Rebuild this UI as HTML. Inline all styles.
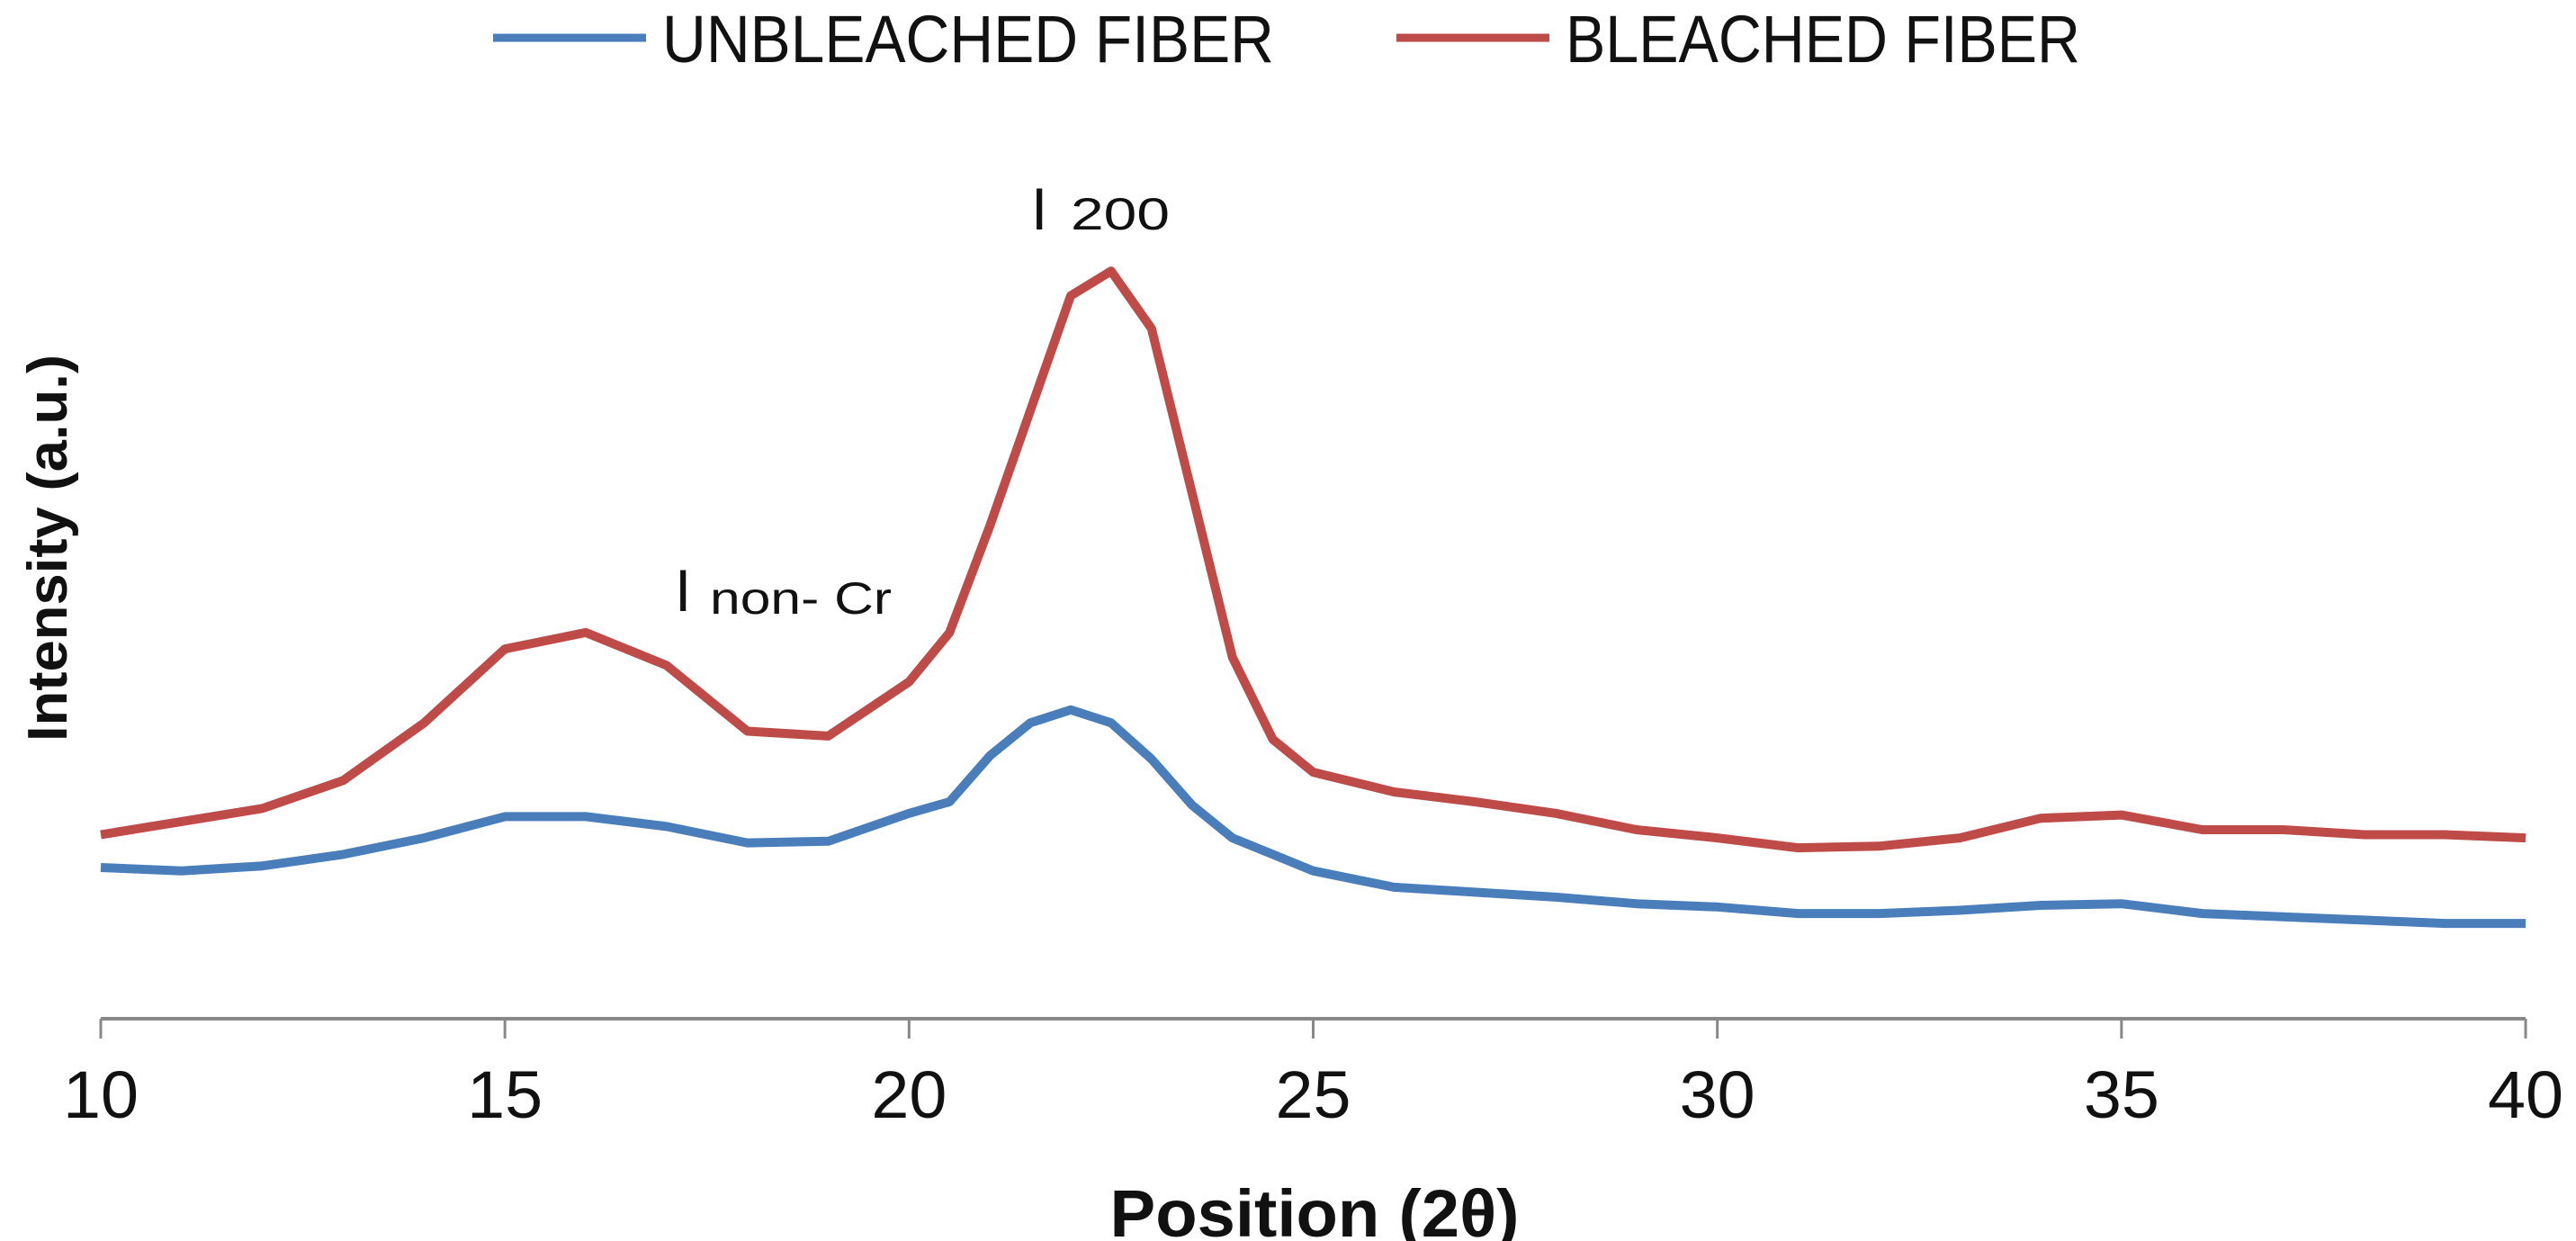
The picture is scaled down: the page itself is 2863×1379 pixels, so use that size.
<!DOCTYPE html>
<html><head><meta charset="utf-8"><style>
html,body{margin:0;padding:0;background:#fff;}
svg{display:block;}
text{font-family:"Liberation Sans",sans-serif;}
</style></head><body>
<svg id="chart" width="2863" height="1379" viewBox="0 0 2863 1379" xmlns="http://www.w3.org/2000/svg">
<g>
  <line x1="548" y1="42" x2="718" y2="42" stroke="#4A7EBB" stroke-width="9"/>
  <text x="736" y="69" font-size="74" fill="#111" textLength="680" lengthAdjust="spacingAndGlyphs">UNBLEACHED FIBER</text>
  <line x1="1552" y1="42" x2="1722" y2="42" stroke="#BE4B48" stroke-width="9"/>
  <text x="1740" y="69" font-size="74" fill="#111" textLength="572" lengthAdjust="spacingAndGlyphs">BLEACHED FIBER</text>
</g>
<g id="axes"></g>
<g id="series"></g>
<text font-size="66" fill="#111"><tspan x="1146" y="255">I</tspan><tspan x="1190" y="255" font-size="50" textLength="110" lengthAdjust="spacingAndGlyphs">200</tspan></text>
<text font-size="66" fill="#111"><tspan x="750" y="679">I</tspan><tspan x="789" y="682" font-size="50" textLength="202" lengthAdjust="spacingAndGlyphs">non- Cr</tspan></text>
<text x="1461" y="1374" font-size="74" font-weight="bold" text-anchor="middle" fill="#111" textLength="455" lengthAdjust="spacingAndGlyphs">Position (2θ)</text>
<text transform="translate(74,609) rotate(-90)" font-size="62" font-weight="bold" text-anchor="middle" fill="#111" textLength="430" lengthAdjust="spacingAndGlyphs">Intensity (a.u.)</text>
</svg>
<script>
const xTicks = [10,15,20,25,30,35,40];
const posX = [10,11,12,13,14,15,16,17,18,19,20,20.5,21,21.5,22,22.5,23,23.5,24,24.5,25,26,27,28,29,30,31,32,33,34,35,36,37,38,39,40];
const bleached = [112,120,128,145,180,225,235,215,175,172,205,235,300,370,440,455,420,320,220,170,150,138,132,125,115,110,104,105,110,122,124,115,115,112,112,110];
const unbleached = [92,90,93,100,110,123,123,117,107,108,125,132,160,180,188,180,158,130,110,100,90,80,77,74,70,68,64,64,66,69,70,64,62,60,58,58];

const NS = 'http://www.w3.org/2000/svg';
const X0 = 112, X1 = 2807, Y0 = 1132;
function xs(v){ return X0 + (v - 10) / 30 * (X1 - X0); }
function ys(v){ return Y0 - v * 1.826; }

const axes = document.getElementById('axes');
const ax = document.createElementNS(NS, 'line');


ax.setAttribute('x1', X0); ax.setAttribute('x2', X1);
ax.setAttribute('y1', Y0); ax.setAttribute('y2', Y0);
ax.setAttribute('stroke', '#888'); ax.setAttribute('stroke-width', '4');
axes.appendChild(ax);
xTicks.forEach(t => {
  const tk = document.createElementNS(NS, 'line');
  
  
  tk.setAttribute('x1', xs(t)); tk.setAttribute('x2', xs(t));
  tk.setAttribute('y1', Y0); tk.setAttribute('y2', Y0 + 22);
  tk.setAttribute('stroke', '#888'); tk.setAttribute('stroke-width', '3');
  axes.appendChild(tk);
  const lb = document.createElementNS(NS, 'text');
  
  
  lb.setAttribute('x', xs(t)); lb.setAttribute('y', 1242);
  lb.setAttribute('font-size', '74'); lb.setAttribute('text-anchor', 'middle');
  lb.setAttribute('textLength', '84'); lb.setAttribute('lengthAdjust', 'spacingAndGlyphs');
  lb.setAttribute('fill', '#111');
  lb.textContent = t;
  axes.appendChild(lb);
});

function drawSeries(vals, color, name){
  let d = '';
  vals.forEach((v, i) => { d += (i ? 'L' : 'M') + xs(posX[i]).toFixed(1) + ',' + ys(v).toFixed(1); });
  const p = document.createElementNS(NS, 'path');
  
  
  p.setAttribute('d', d);
  p.setAttribute('fill', 'none');
  p.setAttribute('stroke', color);
  p.setAttribute('stroke-width', '10');
  p.setAttribute('stroke-linejoin', 'round');
  document.getElementById('series').appendChild(p);
}
drawSeries(unbleached, '#4A7EBB', 'unbleached-fiber-line');
drawSeries(bleached, '#BE4B48', 'bleached-fiber-line');
</script>
</body></html>
